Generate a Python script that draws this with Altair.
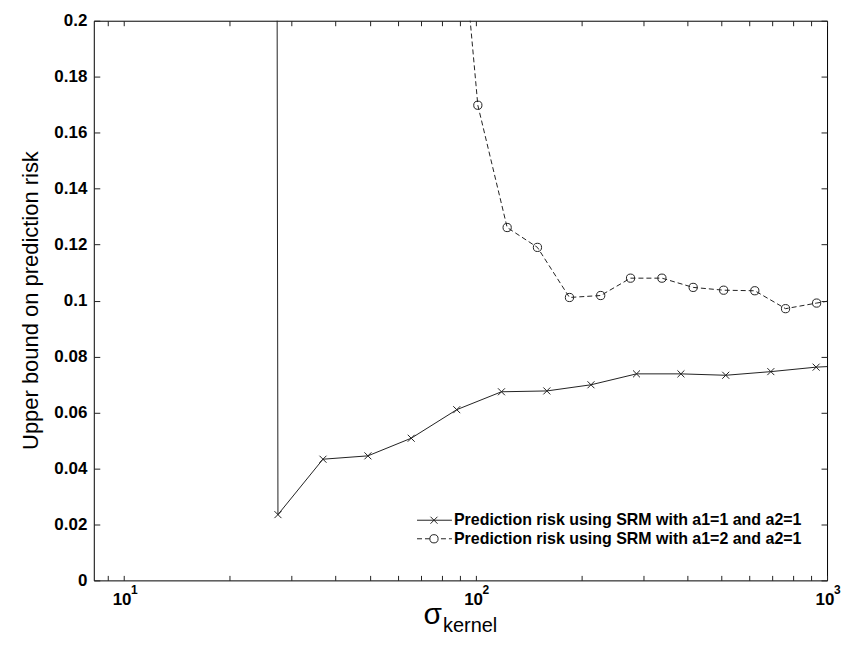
import altair as alt
import pandas as pd

# ---- data ----
solid_x = [20.4, 27.4, 36.8, 49.4, 65.6, 88.4, 118.5, 159.5, 213, 287, 384, 515, 692, 931, 1250]
solid_y = [10.0, 0.0235, 0.0433, 0.0445, 0.0508, 0.0610, 0.0674, 0.0677, 0.0699, 0.0738, 0.0738, 0.0733, 0.0746, 0.0762, 0.0770]

dash_x = [82.9, 101.5, 123, 150, 185, 227, 276, 339, 416, 508, 623, 762, 934, 1144]
dash_y = [0.292, 0.1698, 0.1261, 0.1190, 0.1011, 0.1018, 0.1080, 0.1080, 0.1047, 0.1037, 0.1035, 0.0971, 0.0991, 0.1010]

legend_labels = ["Prediction risk using SRM with a1=1 and a2=1",
                 "Prediction risk using SRM with a1=2 and a2=1"]
y_title = "Upper bound on prediction risk"
x_title_main = "σ"
x_title_sub = "kernel"

x_ticks = [9, 10, 20, 30, 40, 50, 60, 70, 80, 90, 100, 200, 300, 400, 500, 600, 700, 800, 900, 1000]
x_major = [10, 100, 1000]
x_exps = ["1", "2", "3"]
y_ticks = [0, 0.02, 0.04, 0.06, 0.08, 0.1, 0.12, 0.14, 0.16, 0.18, 0.2]

FONT = "Liberation Sans"
INK = "#222222"
W, H = 735, 561

df1 = pd.DataFrame({"s": solid_x, "r": solid_y})
df2 = pd.DataFrame({"s": dash_x, "r": dash_y})
df_exp = pd.DataFrame({"s": x_major, "t": x_exps})
one = pd.DataFrame({"a": [0]})

xscale = alt.Scale(type="log", domain=[8.2, 1000], nice=False)
yscale = alt.Scale(domain=[0, 0.2], nice=False, zero=False)

label_expr = "indexof([10,100,1000], datum.value) >= 0 ? '10' : ''"

x_axis_bottom = alt.Axis(values=x_ticks, labelExpr=label_expr, tickSize=5, offset=-5,
                         labelPadding=11, labelOffset=-2.5, domain=False, grid=False, title=None,
                         labelFont=FONT, labelFontSize=17, labelFontWeight="bold",
                         labelColor="black", tickColor=INK, labelFlush=False, labelOverlap=False)
y_axis_left = alt.Axis(values=y_ticks, format=".2~f", tickSize=6, offset=-6, labelPadding=7,
                       domain=False, grid=False, title=None, labelFont=FONT, labelFontSize=17,
                       labelFontWeight="bold", labelColor="black", tickColor=INK, labelFlush=False)
x_axis_top = alt.Axis(values=x_ticks, orient="top", labels=False, tickSize=5, offset=-5,
                      domain=False, grid=False, title=None, tickColor=INK)
y_axis_right = alt.Axis(values=y_ticks, orient="right", labels=False, tickSize=6, offset=-6,
                        domain=False, grid=False, title=None, tickColor=INK)

xpath = "M-1,-1L1,1M-1,1L1,-1"

line1 = alt.Chart(df1).mark_line(color=INK, strokeWidth=1, clip=True).encode(
    x=alt.X("s:Q", scale=xscale, axis=x_axis_bottom),
    y=alt.Y("r:Q", scale=yscale, axis=y_axis_left),
)
pts1 = alt.Chart(df1).mark_point(shape=xpath, filled=False, size=49, color=INK,
                                 strokeWidth=1, opacity=1, clip=True).encode(
    x=alt.X("s:Q", scale=xscale, axis=None),
    y=alt.Y("r:Q", scale=yscale, axis=None),
)
line2 = alt.Chart(df2).mark_line(color=INK, strokeWidth=1, strokeDash=[5, 3], clip=True).encode(
    x=alt.X("s:Q", scale=xscale, axis=x_axis_top),
    y=alt.Y("r:Q", scale=yscale, axis=y_axis_right),
)
pts2 = alt.Chart(df2).mark_point(shape="circle", filled=False, size=68, color=INK,
                                 strokeWidth=1, opacity=1, clip=True).encode(
    x=alt.X("s:Q", scale=xscale, axis=None),
    y=alt.Y("r:Q", scale=yscale, axis=None),
)

exps = alt.Chart(df_exp).mark_text(font=FONT, fontSize=12, fontWeight="bold", color="black",
                                   align="left", baseline="alphabetic", dx=7).encode(
    x=alt.X("s:Q", scale=xscale, axis=None),
    y=alt.value(H + 14),
    text="t:N",
)

# legend (drawn by hand, inside the plot at lower right)
ly1, ly2 = 500.7, 519.3
lx0, lx1, lxm, lxt = 324, 359, 341, 361
leg = []
leg.append(alt.Chart(one).mark_rule(color=INK, strokeWidth=1).encode(
    x=alt.value(lx0), x2=alt.value(lx1), y=alt.value(ly1)))
leg.append(alt.Chart(one).mark_point(shape=xpath, filled=False, size=49, color=INK,
                                     strokeWidth=1, opacity=1).encode(
    x=alt.value(lxm), y=alt.value(ly1)))
leg.append(alt.Chart(one).mark_rule(color=INK, strokeWidth=1, strokeDash=[5, 3]).encode(
    x=alt.value(lx0), x2=alt.value(lx1), y=alt.value(ly2)))
leg.append(alt.Chart(one).mark_point(shape="circle", filled=True, size=68, color="white",
                                     opacity=1).encode(x=alt.value(lxm), y=alt.value(ly2)))
leg.append(alt.Chart(one).mark_point(shape="circle", filled=False, size=68, color=INK,
                                     strokeWidth=1, opacity=1).encode(
    x=alt.value(lxm), y=alt.value(ly2)))
for lab, yy in zip(legend_labels, [ly1, ly2]):
    leg.append(alt.Chart(one).mark_text(font=FONT, fontSize=16, fontWeight="bold", color="black",
                                        align="left", baseline="middle").encode(
        x=alt.value(lxt), y=alt.value(yy), text=alt.value(lab)))

# axis titles
ytitle = alt.Chart(one).mark_text(font=FONT, fontSize=22, color="black", angle=270,
                                  align="center", baseline="middle").encode(
    x=alt.value(-63), y=alt.value(H / 2), text=alt.value(y_title))
sig = alt.Chart(one).mark_text(font=FONT, fontSize=30, color="black", align="right",
                               baseline="alphabetic").encode(
    x=alt.value(349), y=alt.value(H + 44), text=alt.value(x_title_main))
sub = alt.Chart(one).mark_text(font=FONT, fontSize=20, color="black", align="left",
                               baseline="alphabetic").encode(
    x=alt.value(350), y=alt.value(H + 52), text=alt.value(x_title_sub))

chart = alt.layer(line1, pts1, line2, pts2, exps, *leg, ytitle, sig, sub).resolve_axis(
    x="independent", y="independent"
).properties(
    width=W, height=H,
    autosize=alt.AutoSizeParams(type="none"),
    padding={"left": 86, "top": 12, "right": 14, "bottom": 56},
    background="white",
).configure_view(stroke="black", strokeWidth=1)

chart.save("out.html", embed_options={"renderer": "svg", "actions": False})
